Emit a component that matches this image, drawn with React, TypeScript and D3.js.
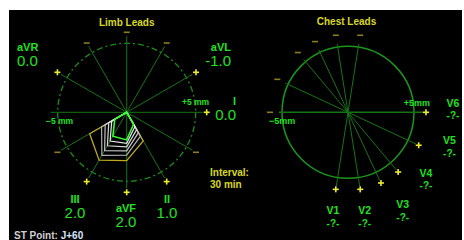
import React from "react";
import * as d3 from "d3";

// ---- data ----
const limbLeadNames = ["I", "II", "aVF", "III", "aVR", "aVL"];
const limbLeadAngles = [0, 60, 90, 120, -150, -30];
const limbLeadValues = ["0.0", "1.0", "2.0", "2.0", "0.0", "-1.0"];

// trace values in Cabrera order: aVL, I, -aVR, II, aVF, III (mm)
const cabreraAngles = [-30, 0, 30, 60, 90, 120];
const referenceTrace = [-3.1, 0, 0, 2.4, 3.5, 4.0];
const historyTrace1 = [-2.1, 0, 0, 2.0, 3.1, 3.6];
const historyTrace2 = [-1.8, 0, 0, 1.7, 2.8, 3.2];
const historyTrace3 = [-1.5, 0, 0, 1.45, 2.5, 2.8];
const historyTrace4 = [-1.25, 0, 0, 1.2, 2.25, 2.4];
const currentTrace = [-1.0, 0, 0, 1.0, 2.0, 2.0];

const chestLeadNames = ["V1", "V2", "V3", "V4", "V5", "V6"];
const chestLeadAngles = [99, 81, 65, 50, 25, 0];
const chestLeadValues = ["-?-", "-?-", "-?-", "-?-", "-?-", "-?-"];

const scaleMax = 5; // mm at circle
const intervalText = ["Interval:", "30 min"];

const rad = (deg: number) => (deg * Math.PI) / 180;

function Marker({ x, y, plus }: { x: number; y: number; plus: boolean }) {
  const c = plus ? "#eeee30" : "#8a7c22";
  return (
    <g>
      <line x1={x - 3} x2={x + 3} y1={y} y2={y} stroke={c} strokeWidth={1.6} />
      {plus && <line x1={x} x2={x} y1={y - 3} y2={y + 3} stroke={c} strokeWidth={1.6} />}
    </g>
  );
}

export default function App() {
  const W = 464;
  const H = 240;
  const lc = { x: 126.7, y: 112.3 };
  const cc = { x: 348, y: 112.3 };
  const R = 69;
  const RC = 66;
  const r = d3.scaleLinear().domain([0, scaleMax]).range([0, R]);

  const tracePath = (vals: number[]) => {
    const line = d3
      .line<number>()
      .x((v, i) => lc.x + r(v) * Math.cos(rad(cabreraAngles[i])))
      .y((v, i) => lc.y + r(v) * Math.sin(rad(cabreraAngles[i])))
      .curve(d3.curveLinearClosed);
    return line(vals) || "";
  };

  const green = "#22e022";
  const spoke = "#157515";
  const font = "'Liberation Sans', Arial, sans-serif";
  const narrow = "'Liberation Sans Narrow', 'Liberation Sans', sans-serif";

  const histories = [historyTrace1, historyTrace2, historyTrace3, historyTrace4];
  const grayColors = ["#b0b0b0", "#c4c4c4", "#d8d8d8", "#e8e8e8"];

  // limb label positions (layout)
  const limbLabelPos: Record<string, { x: number; y: number; anchor: string }> = {
    aVR: { x: 17, y: 48, anchor: "start" },
    aVL: { x: 231, y: 48, anchor: "end" },
    I: { x: 236, y: 102, anchor: "end" },
    III: { x: 75, y: 200, anchor: "middle" },
    aVF: { x: 126, y: 209, anchor: "middle" },
    II: { x: 167, y: 200, anchor: "middle" },
  };
  const chestLabelPos: Record<string, { x: number; y: number }> = {
    V1: { x: 333, y: 211.7 },
    V2: { x: 364.7, y: 211.7 },
    V3: { x: 402.7, y: 205.7 },
    V4: { x: 426, y: 174 },
    V5: { x: 449.5, y: 141.7 },
    V6: { x: 453, y: 104 },
  };

  return (
    <svg
      width={W}
      height={H}
      style={{ position: "absolute", left: 0, top: 0, background: "#fff" }}
    >
      <rect x={9} y={10} width={453} height={230} fill="#000" />

      {/* ---------- Limb leads ---------- */}
      <text x={lc.x} y={23} fill="#d8d820" fontFamily={font} fontWeight="bold" fontSize={10} textAnchor="middle" dominantBaseline="middle">
        Limb Leads
      </text>
      <circle cx={lc.x} cy={lc.y} r={R} fill="none" stroke="#1a8a1a" strokeWidth={1.3} strokeDasharray="6 3 2 3" />
      {limbLeadAngles.map((a, i) => (
        <line
          key={"ls" + i}
          x1={lc.x - 76 * Math.cos(rad(a))}
          y1={lc.y - 76 * Math.sin(rad(a))}
          x2={lc.x + 76 * Math.cos(rad(a))}
          y2={lc.y + 76 * Math.sin(rad(a))}
          stroke={spoke}
          strokeWidth={1}
        />
      ))}
      {limbLeadAngles.map((a, i) => (
        <g key={"lm" + i}>
          <Marker x={lc.x + 80 * Math.cos(rad(a))} y={lc.y + 80 * Math.sin(rad(a))} plus={true} />
          {limbLeadNames[i] !== "I" && (
            <Marker x={lc.x - 80 * Math.cos(rad(a))} y={lc.y - 80 * Math.sin(rad(a))} plus={false} />
          )}
        </g>
      ))}
      {/* traces */}
      <path d={tracePath(referenceTrace)} fill="none" stroke="#c0a820" strokeWidth={1.3} />
      {histories.map((t, i) => (
        <path key={"h" + i} d={tracePath(t)} fill="none" stroke={grayColors[i]} strokeWidth={1.2} />
      ))}
      <path d={tracePath(currentTrace)} fill="none" stroke="#30ff30" strokeWidth={1.6} />

      <text x={46} y={122} fill={green} fontFamily={font} fontWeight="bold" fontSize={8.5} dominantBaseline="middle">
        −5 mm
      </text>
      <text x={182} y={103} fill={green} fontFamily={font} fontWeight="bold" fontSize={8.5} dominantBaseline="middle">
        +5 mm
      </text>

      {limbLeadNames.map((n, i) => {
        const p = limbLabelPos[n];
        return (
          <g key={"ll" + n}>
            <text x={p.x} y={p.y} fill={green} fontFamily={font} fontWeight="bold" fontSize={11} textAnchor={p.anchor} dominantBaseline="middle">
              {n}
            </text>
            <text x={p.x} y={p.y + 14.5} fill={green} fontFamily={narrow} fontSize={15} textAnchor={p.anchor} dominantBaseline="middle">
              {limbLeadValues[i]}
            </text>
          </g>
        );
      })}

      <text x={210} y={173} fill="#d8d820" fontFamily={font} fontWeight="bold" fontSize={10} dominantBaseline="middle">
        {intervalText[0]}
      </text>
      <text x={210} y={185} fill="#d8d820" fontFamily={font} fontWeight="bold" fontSize={10} dominantBaseline="middle">
        {intervalText[1]}
      </text>

      <text x={14} y={236} fontFamily={font} fontWeight="bold" fontSize={10} dominantBaseline="middle">
        <tspan fill="#d0d0d0">ST Point: </tspan>
        <tspan fill="#d8e4ff">J+60</tspan>
      </text>

      {/* ---------- Chest leads ---------- */}
      <text x={346.5} y={22.7} fill="#d8d820" fontFamily={font} fontWeight="bold" fontSize={10} textAnchor="middle" dominantBaseline="middle">
        Chest Leads
      </text>
      <circle cx={cc.x} cy={cc.y} r={RC} fill="none" stroke="#1a961a" strokeWidth={1.5} />
      {chestLeadAngles.map((a, i) => (
        <line
          key={"cs" + i}
          x1={cc.x - 69 * Math.cos(rad(a))}
          y1={cc.y - 69 * Math.sin(rad(a))}
          x2={cc.x + 75 * Math.cos(rad(a))}
          y2={cc.y + 75 * Math.sin(rad(a))}
          stroke={spoke}
          strokeWidth={a === 0 ? 1.6 : 1}
        />
      ))}
      {chestLeadAngles.map((a, i) => (
        <g key={"cm" + i}>
          <Marker x={cc.x + 78 * Math.cos(rad(a))} y={cc.y + 78 * Math.sin(rad(a))} plus={true} />
          <Marker x={cc.x - 78 * Math.cos(rad(a))} y={cc.y - 78 * Math.sin(rad(a))} plus={false} />
        </g>
      ))}
      <text x={269} y={122} fill={green} fontFamily={font} fontWeight="bold" fontSize={9} dominantBaseline="middle">
        −5mm
      </text>
      <text x={430} y={104} fill={green} fontFamily={font} fontWeight="bold" fontSize={9} textAnchor="end" dominantBaseline="middle">
        +5mm
      </text>
      {chestLeadNames.map((n, i) => {
        const p = chestLabelPos[n];
        return (
          <g key={"cl" + n}>
            <text x={p.x} y={p.y} fill={green} fontFamily={font} fontWeight="bold" fontSize={10.5} textAnchor="middle" dominantBaseline="middle">
              {n}
            </text>
            <text x={p.x} y={p.y + 12.5} fill={green} fontFamily={font} fontWeight="bold" fontSize={10} textAnchor="middle" dominantBaseline="middle">
              {chestLeadValues[i]}
            </text>
          </g>
        );
      })}
    </svg>
  );
}
